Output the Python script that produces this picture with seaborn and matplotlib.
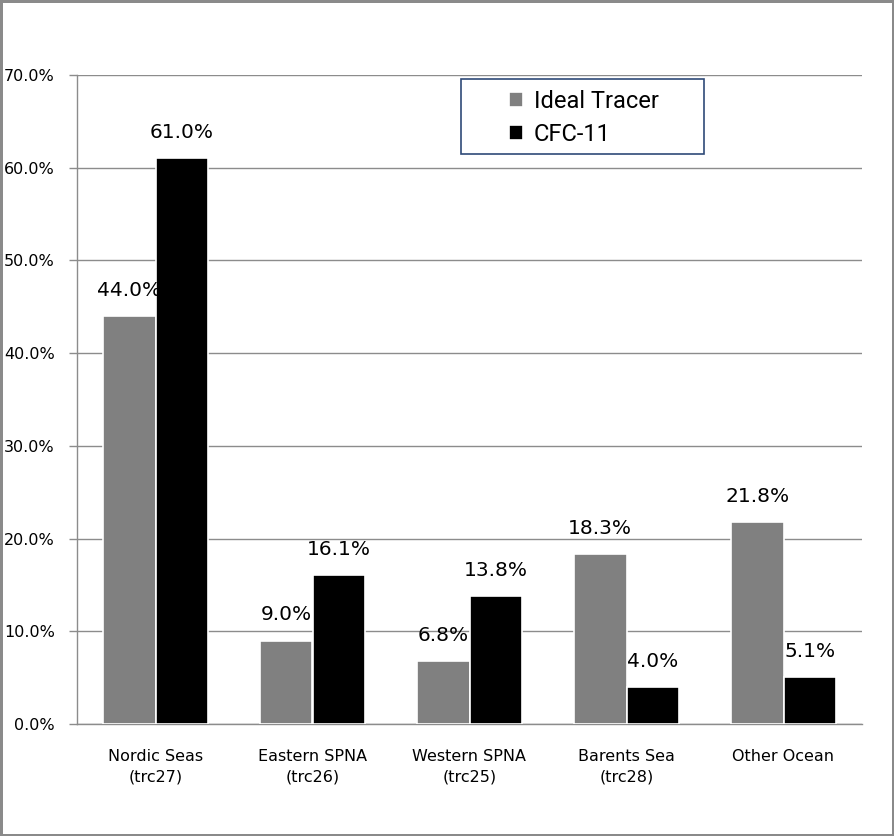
import matplotlib
matplotlib.use("Agg")
import matplotlib.pyplot as plt
import seaborn as sns
import pandas as pd
from matplotlib.patches import Rectangle

categories = ["Nordic Seas\n(trc27)", "Eastern SPNA\n(trc26)", "Western SPNA\n(trc25)",
              "Barents Sea\n(trc28)", "Other Ocean"]
series_names = ["Ideal Tracer", "CFC-11"]
ideal_tracer = [44.0, 9.0, 6.8, 18.3, 21.8]
cfc11 = [61.0, 16.1, 13.8, 4.0, 5.1]
yticks = [0, 10, 20, 30, 40, 50, 60, 70]

sns.set_style("white")
plt.rcParams["font.family"] = ["DejaVu Sans"]
plt.rcParams["text.color"] = "black"
plt.rcParams["xtick.labelcolor"] = "black"
plt.rcParams["ytick.labelcolor"] = "black"

df = pd.DataFrame({
    "region": categories * 2,
    "series": [series_names[0]] * len(categories) + [series_names[1]] * len(categories),
    "value": ideal_tracer + cfc11,
})

W, H = 894, 836
fig = plt.figure(figsize=(W / 100, H / 100), dpi=100)
fig.patch.set_facecolor("white")
fig.patch.set_edgecolor("#8a8a8a")
fig.patch.set_linewidth(2.5)

ax = fig.add_axes([77 / W, 1 - 724 / H, (862 - 77) / W, (724 - 75) / H])
sns.barplot(data=df, x="region", y="value", hue="series", order=categories,
            hue_order=series_names, palette=["#808080", "#000000"],
            width=0.67, gap=0, edgecolor="white", linewidth=1.2, ax=ax,
            legend=True, zorder=3)

ax.set_ylim(0, 70)
ax.set_xlim(-0.5, len(categories) - 0.5)
ax.set_yticks(yticks)
ax.set_yticklabels([f"{v:.1f}%" for v in yticks], fontsize=11.5, color="black")
ax.yaxis.grid(True, color="#8c8c8c", linewidth=1, zorder=0)
ax.set_axisbelow(True)
ax.set_xlabel("")
ax.set_ylabel("")

ax.set_xticks(range(len(categories)))
ax.set_xticklabels(categories, fontsize=11.5, linespacing=1.45, color="black")
ax.tick_params(axis="x", which="major", length=0, pad=18)
ax.set_xticks([i - 0.5 for i in range(len(categories) + 1)], minor=True)
ax.tick_params(axis="x", which="minor", length=6, width=1, color="#8c8c8c", direction="out")
ax.tick_params(axis="y", length=6, width=1, color="#8c8c8c", direction="out", pad=10, left=True)

for s in ["top", "right"]:
    ax.spines[s].set_visible(False)
for s in ["left", "bottom"]:
    ax.spines[s].set_color("#8c8c8c")
    ax.spines[s].set_linewidth(1)

for cont in ax.containers:
    for bar in cont:
        h = bar.get_height()
        ax.annotate(f"{h:.1f}%", (bar.get_x() + bar.get_width() / 2, h),
                    xytext=(0, 18.5), textcoords="offset points",
                    ha="center", va="center", fontsize=14.5, color="black", zorder=5)

handles, labels = ax.get_legend_handles_labels()
leg = ax.legend(handles, labels, loc="center left", frameon=False,
                bbox_to_anchor=(509 / W, 1 - 118 / H), bbox_transform=fig.transFigure,
                prop={"family": ["Liberation Sans Narrow", "Roboto", "DejaVu Sans"], "size": 17},
                handlelength=0.6, handleheight=0.6, handletextpad=0.45, labelspacing=0.4,
                borderpad=0, borderaxespad=0)
for t in leg.get_texts():
    t.set_color("black")
fig.patches.append(Rectangle((461 / W, 1 - 154 / H), (704 - 461) / W, (154 - 79) / H,
                             transform=fig.transFigure, fill=False,
                             edgecolor="#2f4a78", linewidth=1.2))

fig.savefig("out.png", dpi=100)
